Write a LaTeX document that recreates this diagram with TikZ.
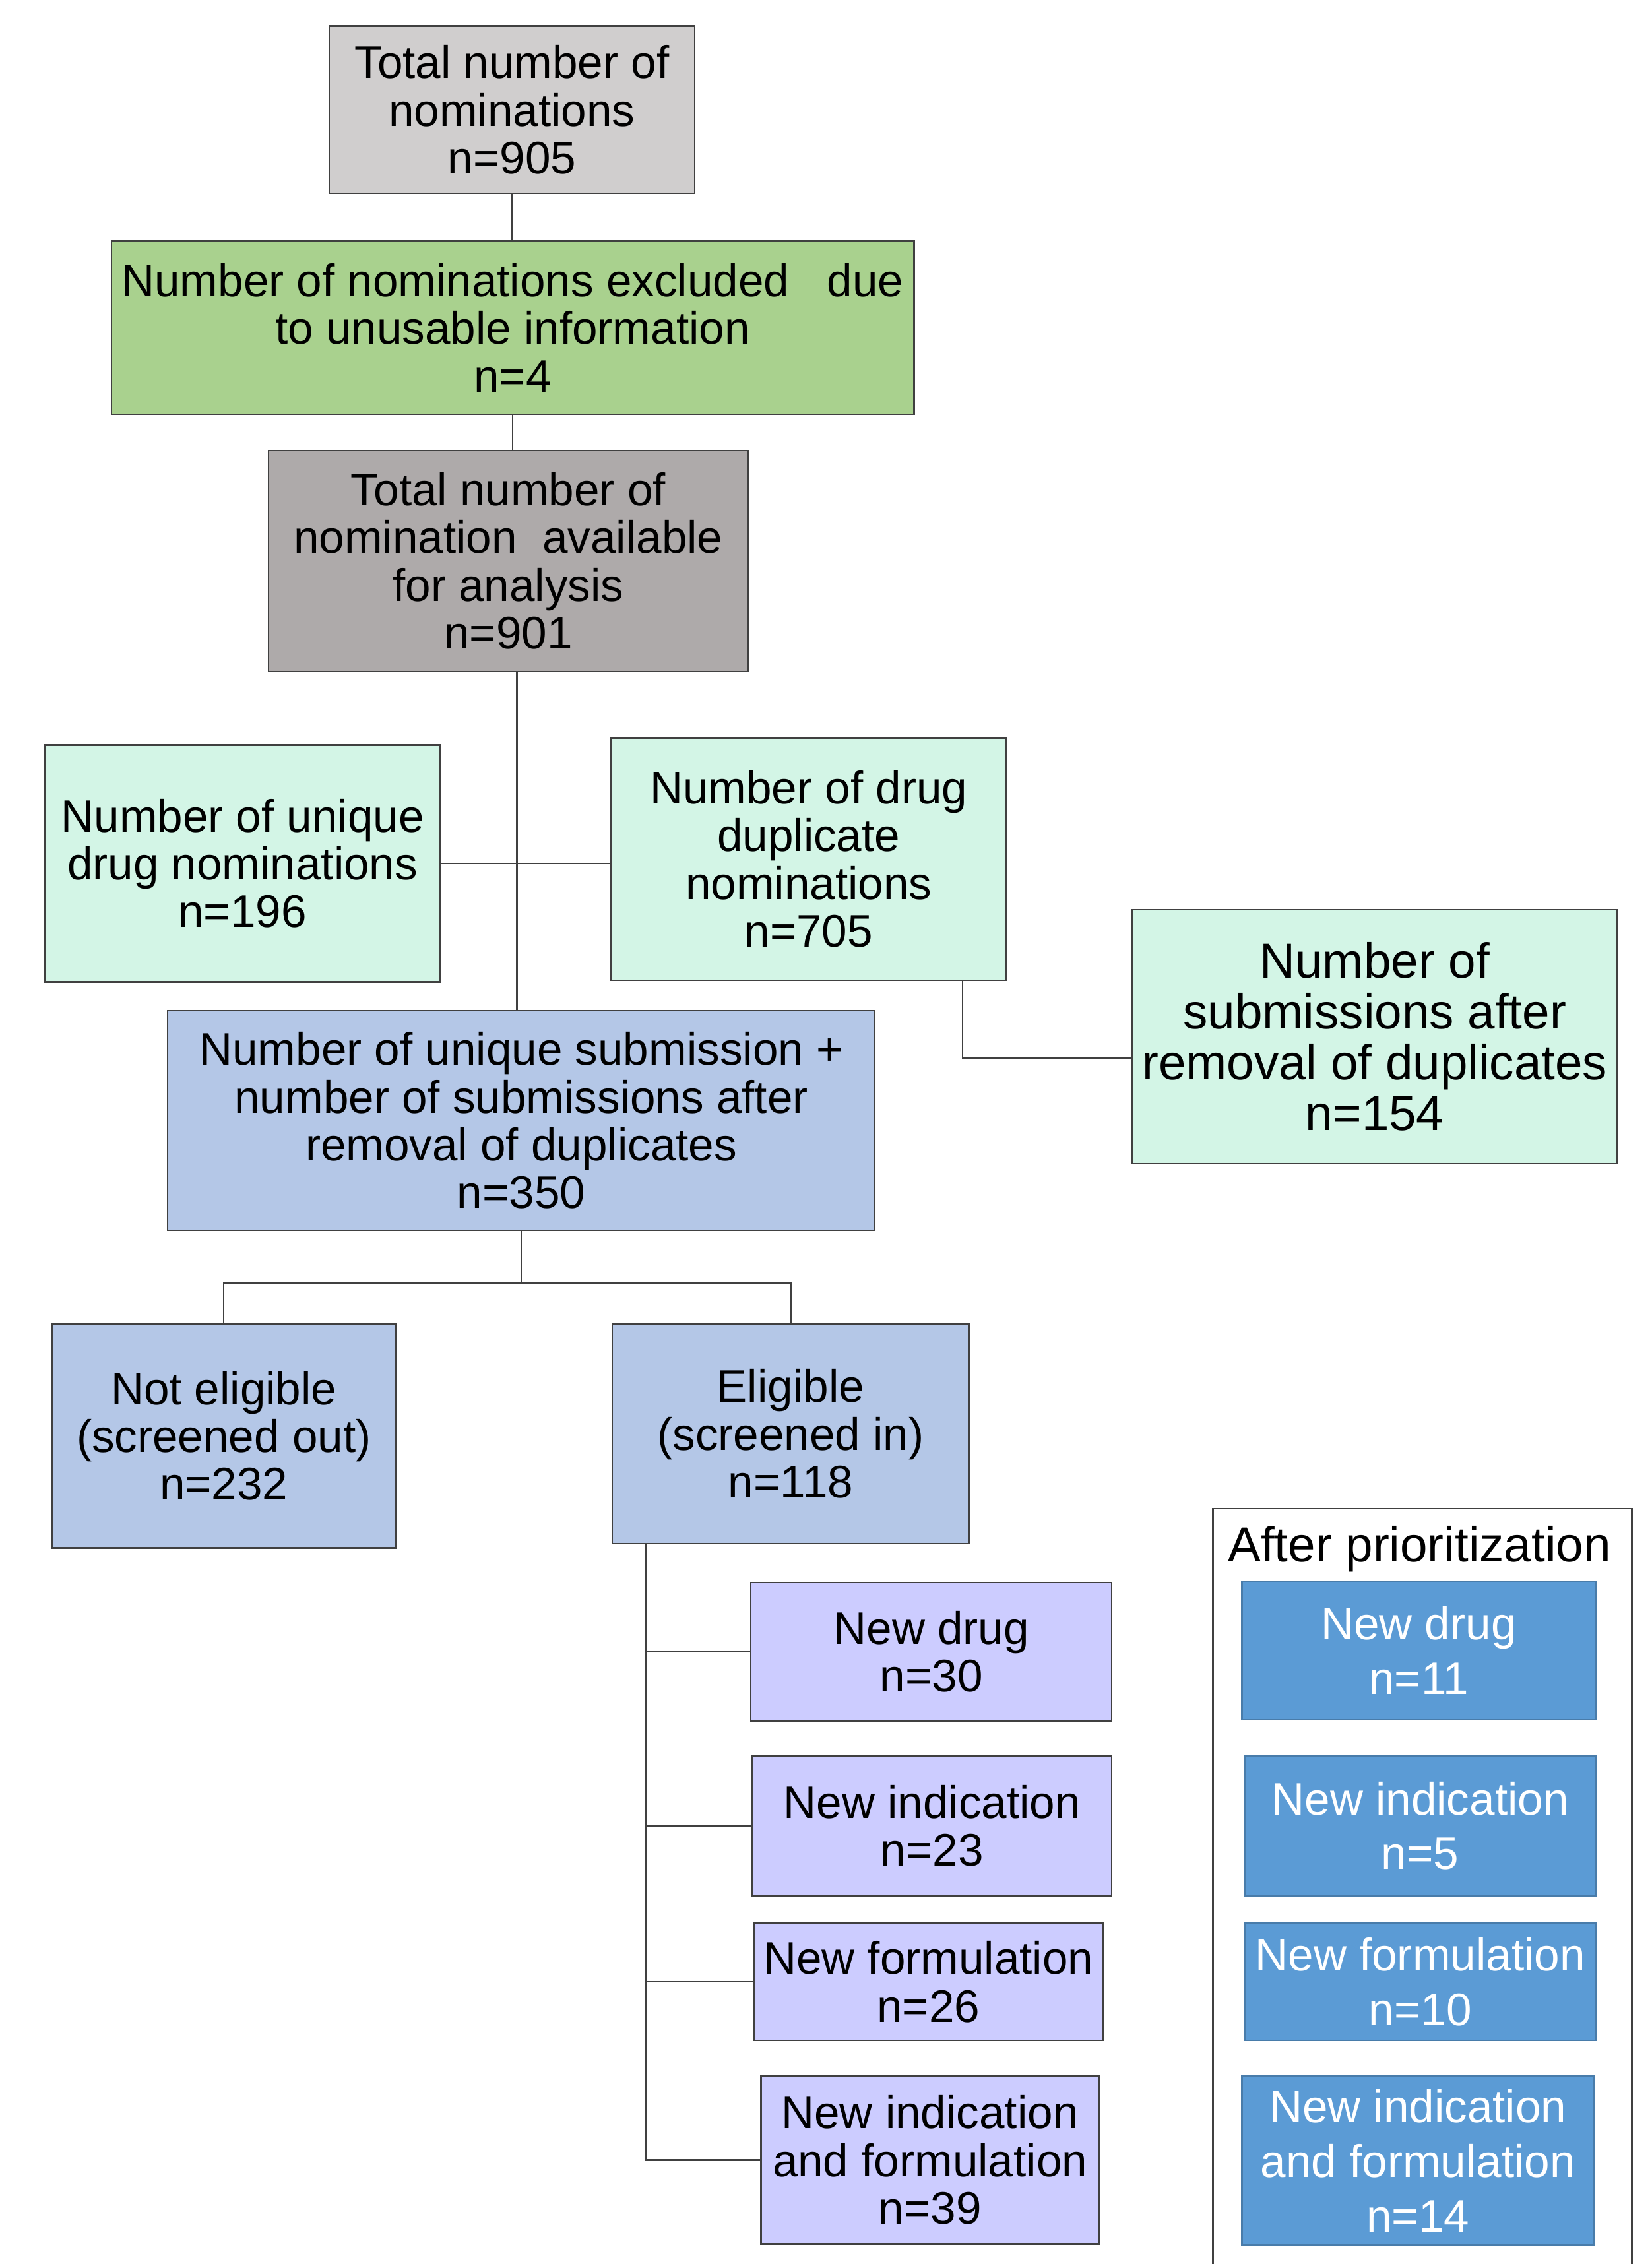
\documentclass[tikz,border=0pt]{standalone}
\usepackage{fontspec}
\setmainfont{Liberation Sans}
\usepackage{xcolor}
\usepackage{tikz}
\usetikzlibrary{positioning,calc}
\definecolor{flowgray}{HTML}{D0CECE}
\definecolor{flowdark}{HTML}{AEAAAA}
\definecolor{flowgreen}{HTML}{A9D18E}
\definecolor{flowmint}{HTML}{D3F5E6}
\definecolor{flowblue}{HTML}{B4C7E7}
\definecolor{flowlav}{HTML}{CCCCFF}
\definecolor{flowdeep}{HTML}{5B9BD5}
\definecolor{flowline}{HTML}{404040}

\tikzset{
  flowbox/.style={rectangle,draw=flowline,line width=0.6pt,inner sep=2pt,
                  align=center,font=\fontsize{18}{18.8}\selectfont},
  prio/.style={flowbox,fill=flowdeep,draw=flowdeep!80!black,text=white,
               font=\fontsize{18}{21.5}\selectfont},
  link/.style={draw=flowline,line width=0.6pt}
}

\begin{document}
\begin{tikzpicture}[x=0.02cm,y=-0.02cm]
  \useasboundingbox (0,0) rectangle (1144,1568);

  % main chain
  \node[flowbox,fill=flowgray,minimum width=5.06cm,minimum height=2.32cm]
       (tot) at (354.5,76) {Total number of\\nominations\\n=905};
  \node[flowbox,fill=flowgreen,minimum width=11.12cm,minimum height=2.4cm]
       (exc) at (355,227) {Number of nominations excluded\ \ \ due\\to unusable information\\n=4};
  \node[flowbox,fill=flowdark,minimum width=6.64cm,minimum height=3.06cm]
       (avail) at (352,388.5) {Total number of\\nomination\ \ available\\for analysis\\n=901};

  \node[flowbox,fill=flowmint,minimum width=5.48cm,minimum height=3.28cm]
       (uniq) at (168,598) {Number of unique\\drug nominations\\n=196};
  \node[flowbox,fill=flowmint,minimum width=5.48cm,minimum height=3.36cm]
       (dup) at (560,595) {Number of drug\\duplicate\\nominations\\n=705};
  \node[flowbox,fill=flowmint,minimum width=6.72cm,minimum height=3.52cm,
        font=\fontsize{19.4}{20}\selectfont]
       (rem) at (952,718) {Number of\\submissions after\\removal of duplicates\\n=154};

  \node[flowbox,fill=flowblue,minimum width=9.8cm,minimum height=3.04cm]
       (sum) at (361,776) {Number of unique submission +\\number of submissions after\\removal of duplicates\\n=350};

  \node[flowbox,fill=flowblue,minimum width=4.76cm,minimum height=3.1cm]
       (nel) at (155,994.5) {Not eligible\\(screened out)\\n=232};
  \node[flowbox,fill=flowblue,minimum width=4.94cm,minimum height=3.04cm]
       (elig) at (547.5,993) {Eligible\\(screened in)\\n=118};

  % categories of eligible submissions
  \node[flowbox,fill=flowlav,minimum width=5cm,minimum height=1.92cm]
       (nd) at (645,1144) {New drug\\n=30};
  \node[flowbox,fill=flowlav,minimum width=4.98cm,minimum height=1.94cm]
       (ni) at (645.5,1264.5) {New indication\\n=23};
  \node[flowbox,fill=flowlav,minimum width=4.84cm,minimum height=1.62cm]
       (nf) at (643,1372.5) {New formulation\\n=26};
  \node[flowbox,fill=flowlav,minimum width=4.68cm,minimum height=2.32cm]
       (nif) at (644,1496) {New indication\\and formulation\\n=39};

  % after prioritization panel
  \draw[link] (840,1568) |- (1130,1045) -- (1130,1568);
  \node[font=\fontsize{19.4}{21}\selectfont] (ptitle) at (983,1073) {After prioritization};
  \node[prio,minimum width=4.9cm,minimum height=1.92cm]
       (rnd) at (982.5,1143) {New drug\\n=11};
  \node[prio,minimum width=4.86cm,minimum height=1.94cm]
       (rni) at (983.5,1264.5) {New indication\\n=5};
  \node[prio,minimum width=4.86cm,minimum height=1.62cm]
       (rnf) at (983.5,1372.5) {New formulation\\n=10};
  \node[prio,minimum width=4.88cm,minimum height=2.34cm]
       (rnif) at (982,1496.5) {New indication\\and formulation\\n=14};

  % connectors
  \draw[link] (tot.south) -- (tot.south |- exc.north);
  \draw[link] (exc.south) -- (exc.south |- avail.north);
  \draw[link] ([xshift=0.12cm]avail.south) -- ([xshift=0.12cm]avail.south |- sum.north);
  \draw[link] (uniq.east) -- (uniq.east -| dup.west);
  \draw[link] ([xshift=-0.62cm]dup.south east) |- ([yshift=-0.3cm]rem.west);
  \draw[link] (sum.south) -- ++(0,36) -| (nel.north);
  \draw[link] (sum.south) ++(0,36) -| (elig.north);
  \coordinate (trunk) at ([xshift=0.48cm]elig.south west);
  \foreach \cat in {nd,ni,nf,nif}
    \draw[link] (trunk) |- (\cat.west);

\end{tikzpicture}
\end{document}
